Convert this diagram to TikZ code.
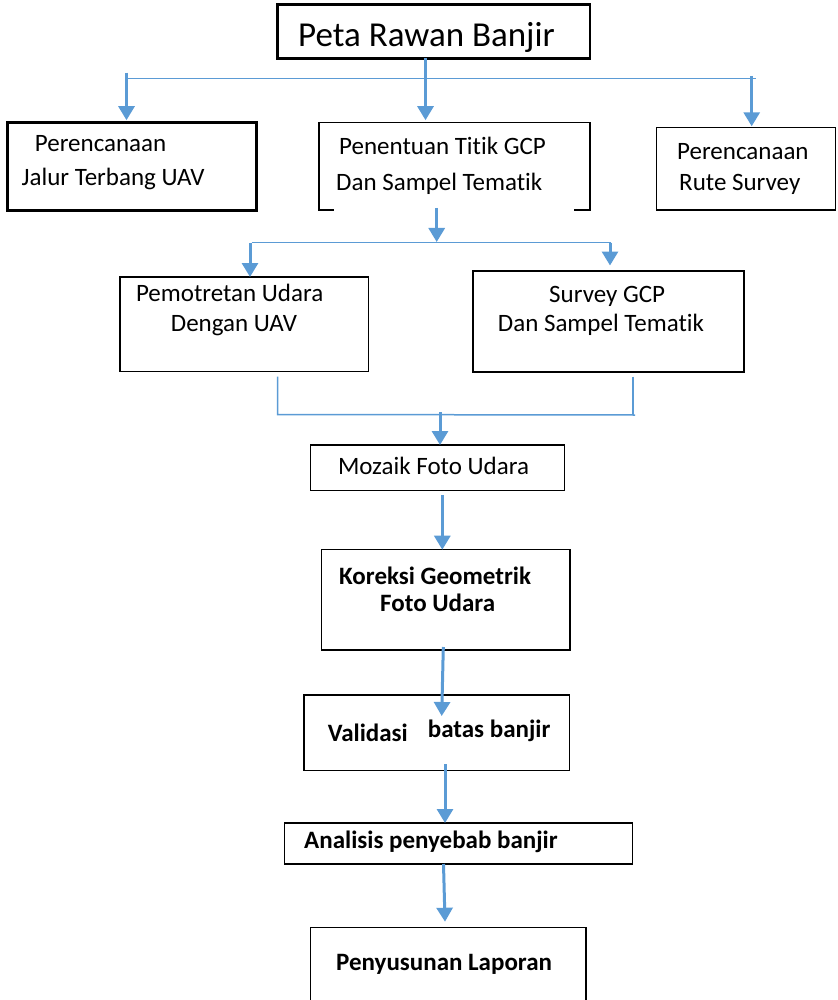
\documentclass[tikz,border=0pt]{standalone}
\usepackage{fontspec}
\setmainfont{Carlito}[Ligatures={NoCommon}]
\usetikzlibrary{arrows.meta}
\definecolor{ablue}{HTML}{5B9BD5}
\begin{document}
\begin{tikzpicture}[x=1pt,y=-1pt,
  box/.style={draw=black, line width=1.3pt, inner sep=0pt, outer sep=0pt, anchor=north west},
  thickbox/.style={box, line width=2.6pt},
  ghost/.style={inner sep=0pt, outer sep=0pt, anchor=north west},
  txt/.style={inner sep=0pt, anchor=base west, font=\fontsize{25}{30}\selectfont},
  btxt/.style={txt, font=\fontsize{25}{30}\selectfont\bfseries},
  arr/.style={draw=ablue, line width=3pt, -{Triangle[width=16pt,length=14pt]}},
  bus/.style={draw=ablue, line width=1.5pt}]
\useasboundingbox (0,0) rectangle (837,1000);

% boxes
\node[thickbox, minimum width=312.4pt, minimum height=53.6pt] (title) at (277.6,4.7) {};
\node[thickbox, minimum width=248.8pt, minimum height=88pt] (b1) at (7.5,122.7) {};
\node[ghost, minimum width=271pt, minimum height=87.3pt] (b2) at (319,122.7) {};
\draw[line width=1.1pt] (333.7,210) -| (319,122.7) -| (590,210) -- (574,210);
\node[box, minimum width=178.5pt, minimum height=82.7pt] (b3) at (656.7,127.3) {};
\node[box, minimum width=248.5pt, minimum height=94.7pt] (b4) at (120,277) {};
\node[box, minimum width=271pt, minimum height=101pt] (b5) at (473,271) {};
\node[box, minimum width=254.2pt, minimum height=45.7pt] (b6) at (310.4,445) {};
\node[box, minimum width=248.3pt, minimum height=100.3pt] (b7) at (321.7,549.7) {};
\node[box, minimum width=265.3pt, minimum height=75.7pt] (b8) at (304,695) {};
\node[box, minimum width=348pt, minimum height=41pt] (b9) at (284.7,823) {};
\node[ghost, minimum width=275.3pt, minimum height=80pt] (b10) at (310.7,927.7) {};
\draw[line width=1.3pt] (b10.south west) |- (b10.north east) -- (b10.south east);

% texts
\node[txt, font=\fontsize{35}{40}\selectfont] (t0) at (298,47) {Peta Rawan Banjir};
\node[txt] (t1a) at (34.7,151.7) {Perencanaan};
\node[txt] (t1b) at (21.4,185.5) {Jalur Terbang UAV};
\node[txt] (t2a) at (339,155) {Penentuan Titik GCP};
\node[txt] (t2b) at (336,190.7) {Dan Sampel Tematik};
\node[txt] (t3a) at (677,159.3) {Perencanaan};
\node[txt] (t3b) at (679,190.7) {Rute Survey};
\node[txt] (t4a) at (135.8,301.7) {Pemotretan Udara};
\node[txt] (t4b) at (170.7,331) {Dengan UAV};
\node[txt] (t5a) at (549,302.7) {Survey GCP};
\node[txt] (t5b) at (497.7,331.7) {Dan Sampel Tematik};
\node[txt] (t6) at (337.8,474.3) {Mozaik Foto Udara};
\node[btxt] (t7a) at (339,584.3) {Koreksi Geometrik};
\node[btxt] (t7b) at (380,611.7) {Foto Udara};
\node[btxt] (t8a) at (327.7,741.7) {Validasi};
\node[btxt] (t8b) at (427.7,737.3) {batas banjir};
\node[btxt] (t9) at (304,848.3) {Analisis penyebab banjir};
\node[btxt] (t10) at (336,970.7) {Penyusunan Laporan};

% level 1 distribution
\coordinate (hL) at (126.5,78.7);
\coordinate (hR) at (755.5,78.7);
\coordinate (hM) at (425.5,78.7);
\coordinate (l0) at (126.5,72.7);
\coordinate (r0) at (751.7,76);
\draw[bus] (hL) -- (hR);
\draw[arr] (title.south -| hM) -- ([yshift=2.5pt]b2.north -| hM);
\draw[arr] (l0) -- ([yshift=2.5pt]b1.north -| l0);
\draw[arr] (r0) -- ([yshift=1pt]b3.north -| r0);

% level 2 distribution
\coordinate (m0) at (436.7,208);
\coordinate (m1) at (436.7,242);
\coordinate (gL) at (252,242.7);
\coordinate (gR) at (611,242.7);
\coordinate (aL) at (250,242.7);
\coordinate (aR) at (610,242.7);
\draw[arr] (m0) -- (m1);
\draw[bus] (gL) -- (gR);
\draw[arr] (aL) -- (b4.north -| aL);
\draw[arr] (aR) -- ([yshift=5.5pt]b5.north -| aR);

% merge
\coordinate (uL) at (277.6,376.7);
\coordinate (uR) at (633,376.5);
\coordinate (kL) at (277.6,414.5);
\coordinate (kR) at (635,415);
\coordinate (k0) at (440,412);
\draw[bus] (uL) -- (kL) -- (kR);
\draw[bus] (uR) -- (633,415);
\draw[arr] (k0) -- (b6.north -| k0);

% chain
\coordinate (c1) at (442.3,495);
\draw[arr] (c1) -- (b7.north -| c1);
\coordinate (c2) at (443.3,647);
\coordinate (c2e) at (441.7,716);
\draw[arr] (c2) -- (c2e);
\coordinate (c3) at (445,764);
\draw[arr] (c3) -- (b9.north -| c3);
\coordinate (c4) at (443.5,864);
\coordinate (c4e) at (445,921.7);
\draw[arr] (c4) -- (c4e);
\end{tikzpicture}
\end{document}
